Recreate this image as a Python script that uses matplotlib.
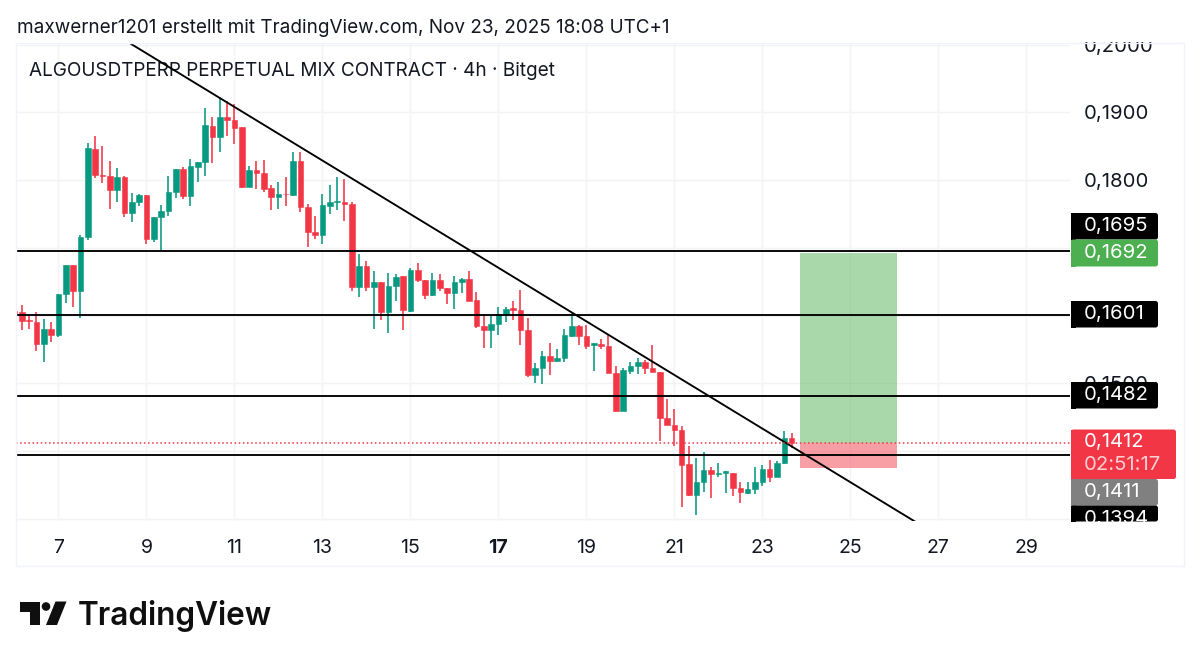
import numpy as np
import matplotlib
matplotlib.use("Agg")
import matplotlib.pyplot as plt
from matplotlib.patches import Rectangle, FancyBboxPatch, Polygon, Circle

plt.rcParams['font.family'] = ['Inter', 'DejaVu Sans']

# prices in 1/10000 (tick size of the contract), one candle per 4h
OPENS = [1607, 1606, 1594, 1591, 1558, 1580, 1572, 1632, 1674, 1636,
         1716, 1846, 1808, 1806, 1785, 1805, 1752, 1767, 1778, 1713,
         1745, 1754, 1783, 1817, 1777, 1820, 1827, 1880, 1864, 1893,
         1888, 1878, 1790, 1815, 1811, 1788, 1775, 1780, 1778, 1828,
         1760, 1724, 1719, 1762, 1768, 1768, 1764, 1642, 1673, 1642,
         1649, 1606, 1643, 1658, 1607, 1668, 1653, 1630, 1653, 1641,
         1634, 1650, 1654, 1623, 1584, 1578, 1587, 1603, 1611, 1608,
         1578, 1513, 1523, 1541, 1533, 1538, 1570, 1584, 1570, 1557,
         1558, 1555, 1515, 1459, 1518, 1526, 1531, 1522, 1517, 1449,
         1438, 1431, 1381, 1335, 1354, 1372, 1366, 1368, 1368, 1345,
         1338, 1344, 1355, 1373, 1362, 1382, 1420]
HIGHS = [1613, 1616, 1601, 1605, 1595, 1590, 1632, 1674, 1674, 1719,
         1854, 1865, 1851, 1828, 1818, 1806, 1781, 1779, 1778, 1745,
         1763, 1806, 1817, 1820, 1831, 1827, 1906, 1893, 1922, 1916,
         1913, 1878, 1821, 1828, 1830, 1793, 1797, 1804, 1842, 1842,
         1764, 1747, 1779, 1793, 1804, 1801, 1767, 1691, 1681, 1666,
         1650, 1663, 1662, 1659, 1670, 1677, 1653, 1663, 1662, 1641,
         1658, 1655, 1666, 1635, 1602, 1601, 1612, 1613, 1621, 1638,
         1596, 1530, 1548, 1560, 1551, 1580, 1604, 1586, 1586, 1560,
         1566, 1571, 1526, 1523, 1531, 1538, 1535, 1556, 1517, 1477,
         1462, 1437, 1408, 1390, 1399, 1377, 1383, 1370, 1368, 1354,
         1354, 1376, 1379, 1387, 1385, 1430, 1427]
LOWS = [1599, 1579, 1580, 1548, 1531, 1561, 1568, 1618, 1613, 1596,
        1711, 1803, 1796, 1757, 1768, 1746, 1738, 1761, 1705, 1709,
        1695, 1747, 1773, 1772, 1761, 1797, 1806, 1825, 1842, 1865,
        1853, 1789, 1790, 1787, 1783, 1756, 1758, 1762, 1777, 1753,
        1701, 1713, 1706, 1750, 1756, 1739, 1636, 1628, 1636, 1580,
        1594, 1575, 1622, 1578, 1606, 1650, 1624, 1629, 1637, 1617,
        1609, 1633, 1621, 1581, 1552, 1552, 1571, 1590, 1593, 1557,
        1509, 1501, 1499, 1513, 1532, 1531, 1568, 1556, 1551, 1518,
        1551, 1515, 1457, 1459, 1514, 1514, 1514, 1516, 1415, 1438,
        1408, 1317, 1334, 1306, 1340, 1330, 1362, 1338, 1334, 1324,
        1337, 1337, 1349, 1354, 1361, 1381, 1405]
CLOSES = [1603, 1592, 1592, 1558, 1580, 1572, 1632, 1674, 1636, 1716,
          1847, 1808, 1806, 1785, 1804, 1752, 1768, 1778, 1713, 1745,
          1754, 1783, 1817, 1777, 1821, 1827, 1881, 1864, 1893, 1888,
          1877, 1790, 1815, 1811, 1787, 1775, 1779, 1779, 1828, 1760,
          1724, 1719, 1763, 1768, 1769, 1764, 1642, 1673, 1642, 1649,
          1606, 1643, 1657, 1608, 1668, 1653, 1631, 1653, 1641, 1634,
          1650, 1654, 1622, 1584, 1578, 1587, 1603, 1610, 1608, 1578,
          1512, 1523, 1541, 1533, 1538, 1571, 1584, 1570, 1555, 1559,
          1555, 1515, 1459, 1519, 1526, 1531, 1522, 1516, 1449, 1439,
          1431, 1380, 1335, 1354, 1372, 1366, 1367, 1370, 1345, 1339,
          1344, 1355, 1373, 1362, 1382, 1420, 1412]

DATE_TICKS = [6, 18, 30, 42, 54, 66, 78, 90, 102, 114, 126, 138]
DATE_LABELS = ["7", "9", "11", "13", "15", "17", "19", "21", "23", "25", "27", "29"]
PRICE_TICKS = [0.13, 0.14, 0.15, 0.16, 0.17, 0.18, 0.19, 0.20]
# 0,1300 - 0,1400 - 0,1600 - 0,1700 sit fully behind the price tags
PRICE_LABELS = ["", "", "0,1500", "", "", "0,1800", "0,1900", "0,2000"]

LEVELS = [0.1695, 0.1601, 0.1482, 0.1394]
LAST_PRICE = 0.1412
TARGET_PRICE = 0.1692
STOP_PRICE = 0.1375
BOX_X = [107.1, 120.4]
TREND_X = [15.9, 122.8]
TREND_Y = [0.2001, 0.1296]

GREEN = "#089981"
RED = "#F23645"
GRID = "#F2F3F5"
TEXT = "#131722"

fig = plt.figure(figsize=(12, 6.62), dpi=100, facecolor="white")
ax = fig.add_axes([16 / 1200, (662 - 520.5) / 662, 1054 / 1200, 477 / 662])
ax.set_xlim(0.218, 143.95)
ax.set_ylim(0.12975, 0.20016)
for sp in ax.spines.values():
    sp.set_visible(False)

ax.set_axisbelow(True)
ax.grid(color=GRID, linewidth=1)
ax.set_xticks(DATE_TICKS)
ax.set_xticklabels(DATE_LABELS, fontsize=14, color=TEXT)
ax.get_xticklabels()[5].set_fontweight("bold")
ax.yaxis.tick_right()
ax.set_yticks(PRICE_TICKS)
ax.set_yticklabels(PRICE_LABELS, fontsize=14.6, color=TEXT)
ax.tick_params(axis='x', length=0, pad=13)
ax.tick_params(axis='y', length=0, pad=10)

# candles
opens = np.array(OPENS) / 1e4
highs = np.array(HIGHS) / 1e4
lows = np.array(LOWS) / 1e4
closes = np.array(CLOSES) / 1e4
idx = np.arange(len(opens))
colors = [GREEN if c >= o else RED for o, c in zip(opens, closes)]
ax.vlines(idx, lows, highs, colors=colors, linewidth=1.15, zorder=3)
ax.bar(idx, np.abs(closes - opens), bottom=np.minimum(opens, closes), width=0.76,
       color=colors, edgecolor=colors, linewidth=0.4, zorder=3)

# long position box
ax.fill_between(BOX_X, LAST_PRICE, TARGET_PRICE, color="#4CAF50", alpha=0.48, lw=0, zorder=2)
ax.fill_between(BOX_X, STOP_PRICE, LAST_PRICE, color=RED, alpha=0.48, lw=0, zorder=2)

# drawings
for lvl in LEVELS:
    ax.axhline(lvl, color="black", linewidth=1.35, zorder=4)
ax.plot(TREND_X, TREND_Y, color="black", linewidth=1.35, zorder=4)
ax.axhline(LAST_PRICE, color=RED, linewidth=1.1, linestyle=(0, (1, 1.7)), zorder=4)

ax.annotate("ALGOUSDTPERP PERPETUAL MIX CONTRACT · 4h · Bitget",
            xy=(13 / 1054, 1 - 28 / 477), xycoords='axes fraction',
            va='center', ha='left', fontsize=13.66, color=TEXT, zorder=1)

# overlay in image pixels for the TradingView chrome
ui = fig.add_axes([0, 0, 1, 1], zorder=5, facecolor="none")
ui.set_xlim(0, 1200)
ui.set_ylim(662, 0)
ui.axis("off")

ui.add_patch(Rectangle((16, 43), 1168, 523, fill=False, edgecolor="#F0F3FA", linewidth=1))
ui.add_patch(Rectangle((1071, 30), 110, 11.5, facecolor="white", edgecolor="none"))

ui.text(17, 28, "maxwerner1201 erstellt mit TradingView.com, Nov 23, 2025 18:08 UTC+1",
        fontsize=13.63, color=TEXT, va='center', ha='left')


def price_tag(top, bottom, color, right=1158):
    clip = FancyBboxPatch((1071, top), right - 1071, bottom - top,
                          boxstyle="round,pad=0,rounding_size=2.5",
                          facecolor=color, edgecolor="none", zorder=2)
    ui.add_patch(clip)
    ui.add_patch(Rectangle((1071, top), 5, bottom - top, facecolor=color, edgecolor="none", zorder=2))
    return clip


def tag_text(y, s, color="white", clip=None):
    t = ui.text(1084, y, s, color=color, fontsize=14.6, va='center', ha='left', zorder=3)
    if clip is not None:
        t.set_clip_path(clip)
    return t


price_tag(213, 239.5, "#000000")
tag_text(226, "0,1695")
price_tag(239.5, 266.5, "#4CAF50")
tag_text(253, "0,1692")
price_tag(301, 327.5, "#000000")
tag_text(314.5, "0,1601")
price_tag(382, 408.5, "#000000")
tag_text(395, "0,1482")
price_tag(429.5, 479, RED, right=1176)
tag_text(442.5, "0,1412")
tag_text(465.5, "02:51:17", color="#FBD0D5")
price_tag(479, 505.5, "#808080")
tag_text(492, "0,1411")
last = price_tag(505.5, 521.5, "#000000")
tag_text(519, "0,1394", clip=last)

# logo
ui.add_patch(Polygon([(19.5, 601.5), (39.5, 601.5), (39.5, 625), (29.5, 625), (29.5, 611.5), (19.5, 611.5)],
                     closed=True, facecolor="#0F0F0F", edgecolor="none"))
ui.add_patch(Circle((46, 606.5), 4.3, facecolor="#0F0F0F", edgecolor="none"))
ui.add_patch(Polygon([(55.5, 601.5), (66.5, 601.5), (57, 625), (46, 625)],
                     closed=True, facecolor="#0F0F0F", edgecolor="none"))
ui.text(77.5, 625, "TradingView", fontsize=22.7, fontweight="semibold", color="#0F0F0F",
        va='baseline', ha='left')

fig.savefig("out.png", dpi=100)
